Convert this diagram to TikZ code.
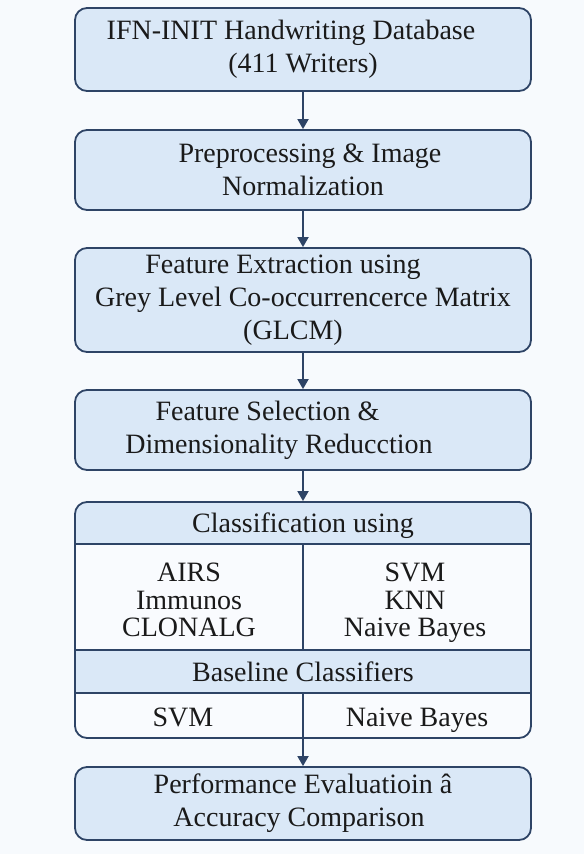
\documentclass[tikz,border=0pt]{standalone}
\usepackage{fontspec}
\setmainfont{Liberation Serif}
\usetikzlibrary{arrows.meta}
\definecolor{bfill}{HTML}{DAE8F7}
\definecolor{bline}{HTML}{2E4466}
\definecolor{bg}{HTML}{F7FAFD}
\definecolor{txt}{HTML}{1A1A1A}
\definecolor{wfill}{HTML}{F9FBFE}
\begin{document}
\begin{tikzpicture}[x=1pt,y=-1pt,
 box/.style={draw=bline, line width=1.8pt, fill=bfill, rounded corners=12pt, minimum width=456pt, align=center, text=txt, font=\fontsize{28}{33}\selectfont, inner sep=0pt},
 flow/.style={draw=bline, line width=1.8pt, -{Triangle[length=10pt,width=11pt]}},
 cell/.style={text=txt, align=center, font=\fontsize{28}{27.5}\selectfont, inner sep=0pt},
 divider/.style={draw=bline, line width=1.8pt}]
\fill[bg] (0,0) rectangle (584,854);
\useasboundingbox (0,0) rectangle (584,854);

\node[box, minimum height=83pt] (db) at (303,49.5) {IFN-INIT Handwriting Database\hspace*{24pt}\\(411 Writers)};
\node[box, minimum height=80pt] (pre) at (303,170) {\hspace*{14pt}Preprocessing \& Image\\Normalization};
\node[box, minimum height=104pt] (fe) at (303,300) {Feature Extraction using\hspace*{40pt}\\Grey Level Co-occurrencerce Matrix\hspace*{6pt}\\(GLCM)\hspace*{20pt}};
\node[box, minimum height=80pt] (fs) at (303,430) {Feature Selection \&\hspace*{71pt}\\Dimensionality Reducction\hspace*{48pt}};

% classification block
\begin{scope}
\clip[rounded corners=12pt] (75,502) rectangle (531,738);
\fill[wfill] (75,502) rectangle (531,738);
\fill[bfill] (75,502) rectangle (531,544);
\fill[bfill] (75,650) rectangle (531,693);
\end{scope}
\node[draw=bline, line width=1.8pt, rounded corners=12pt, minimum width=456pt, minimum height=236pt, inner sep=0pt] (cls) at (303,620) {};
\draw[divider] (75,544) -- (531,544);
\draw[divider] (75,650) -- (531,650);
\draw[divider] (75,693) -- (531,693);
\draw[divider] (303,544) -- (303,650);
\draw[divider] (303,693) -- (303,738);

\node[cell] (hdr) at (303,526) {Classification using};
\node[cell] (ais) at (189,603) {AIRS\\Immunos\\CLONALG\vphantom{y}};
\node[cell] (ml) at (415,603) {SVM\\KNN\\Naive Bayes};
\node[cell] (base) at (303,675) {Baseline Classifiers\vphantom{y}};
\node[cell] (bsvm) at (183,720) {SVM\vphantom{y}};
\node[cell] (bnb) at (417,720) {Naive Bayes};

\node[box, minimum height=73pt] (perf) at (303,803.5) {Performance Evaluatioin â\\Accuracy Comparison\hspace*{8pt}};

\draw[flow] (db) -- (pre);
\draw[flow] (pre) -- (fe);
\draw[flow] (fe) -- (fs);
\draw[flow] (fs) -- (cls);
\draw[flow] (cls) -- (perf);
\end{tikzpicture}
\end{document}
